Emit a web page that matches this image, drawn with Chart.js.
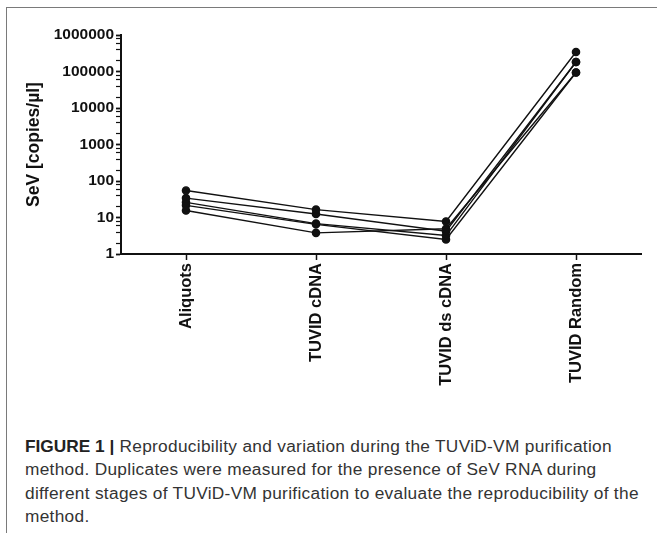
<!DOCTYPE html>
<html>
<head>
<meta charset="utf-8">
<script src="https://cdn.jsdelivr.net/npm/chart.js@4/dist/chart.umd.min.js"></script>
<style>
  html, body { margin: 0; padding: 0; background: #fff; }
  body { width: 657px; height: 533px; position: relative; overflow: hidden; }
  #frame { position: absolute; left: 6px; top: 7px; right: -2px; bottom: -2px;
           border-top: 1px solid #7a7a7a; border-left: 1px solid #7a7a7a; }
  #wrap { position: absolute; left: 0; top: 0; width: 657px; height: 392px; }
  #caption { position: absolute; left: 25px; top: 435px; width: 625px;
             font-family: "Liberation Sans", Arial, sans-serif; font-size: 17.3px;
             letter-spacing: 0.3px; line-height: 23.3px; color: #333; white-space: nowrap; }
  #caption b { color: #222; letter-spacing: 0; }
</style>
</head>
<body>
<div id="frame"></div>
<div id="wrap"><canvas id="chart"></canvas></div>
<div id="caption"><b>FIGURE 1 |</b> Reproducibility and variation during the TUViD-VM purification<br>method. Duplicates were measured for the presence of SeV RNA during<br>different stages of TUViD-VM purification to evaluate the reproducibility of the<br>method.</div>
<script>
// stages on the x axis
const stages = ["Aliquots", "TUVID cDNA", "TUVID ds cDNA", "TUVID Random"];

// SeV copies/µl, one array per replicate
const rep1 = [55, 16.4, 7.8, 342000];
const rep2 = [34, 12.5, 4.2, 182000];
const rep3 = [26, 6.8, 3.2, 182000];
const rep4 = [21.5, 6.5, 2.5, 94000];
const rep5 = [15.5, 3.8, 4.9, 94000];

const decades = [1, 10, 100, 1000, 10000, 100000, 1000000];

function line(data) {
    return {
        data: data,
        borderColor: "#111",
        backgroundColor: "#111",
        borderWidth: 1.4,
        pointRadius: 3.6,
        pointHoverRadius: 3.6,
        tension: 0
    };
}

const boldFont = "Liberation Sans, Arial";

new Chart(document.getElementById("chart"), {
    type: "line",
    data: {
        labels: stages,
        datasets: [line(rep1), line(rep2), line(rep3), line(rep4), line(rep5)]
    },
    options: {
        animation: false,
        responsive: true,
        maintainAspectRatio: false,
        layout: { padding: { top: 35, right: 16, left: 0, bottom: 0 } },
        plugins: {
            legend: { display: false },
            tooltip: { enabled: false }
        },
        scales: {
            x: {
                type: "category",
                offset: true,
                afterFit: function (s) { s.height = 138; },
                border: { color: "#111", width: 2 },
                grid: { display: true, drawOnChartArea: false, drawTicks: true, tickLength: 6,
                        tickColor: "#111", tickWidth: 1.5, offset: false },
                ticks: {
                    color: "#111",
                    minRotation: 90, maxRotation: 90,
                    padding: 3,
                    font: { family: boldFont, weight: "bold", size: 16.5 }
                }
            },
            y: {
                type: "logarithmic",
                min: 1, max: 1000000,
                afterFit: function (s) { s.width = 121; },
                afterBuildTicks: function (s) {
                    const t = [];
                    decades.forEach(function (d, i) {
                        t.push({ value: d, major: true });
                        if (i < decades.length - 1) {
                            [2, 4, 6, 8].forEach(function (m) { t.push({ value: d * m }); });
                        }
                    });
                    s.ticks = t;
                },
                border: { color: "#111", width: 2 },
                grid: {
                    display: true, drawOnChartArea: false, drawTicks: true, tickLength: 5,
                    tickColor: "#111",
                    tickWidth: function (c) { return decades.includes(c.tick.value) ? 1.8 : 1.2; }
                },
                title: {
                    display: true,
                    text: "SeV [copies/µl]",
                    color: "#111",
                    padding: { top: 24, bottom: 0 },
                    font: { family: boldFont, weight: "bold", size: 17.5 }
                },
                ticks: {
                    color: "#111",
                    padding: 2,
                    autoSkip: false,
                    font: { family: boldFont, weight: "bold", size: 15.5 },
                    callback: function (v) { return decades.includes(v) ? String(v) : ""; }
                }
            }
        }
    }
});
</script>
</body>
</html>
